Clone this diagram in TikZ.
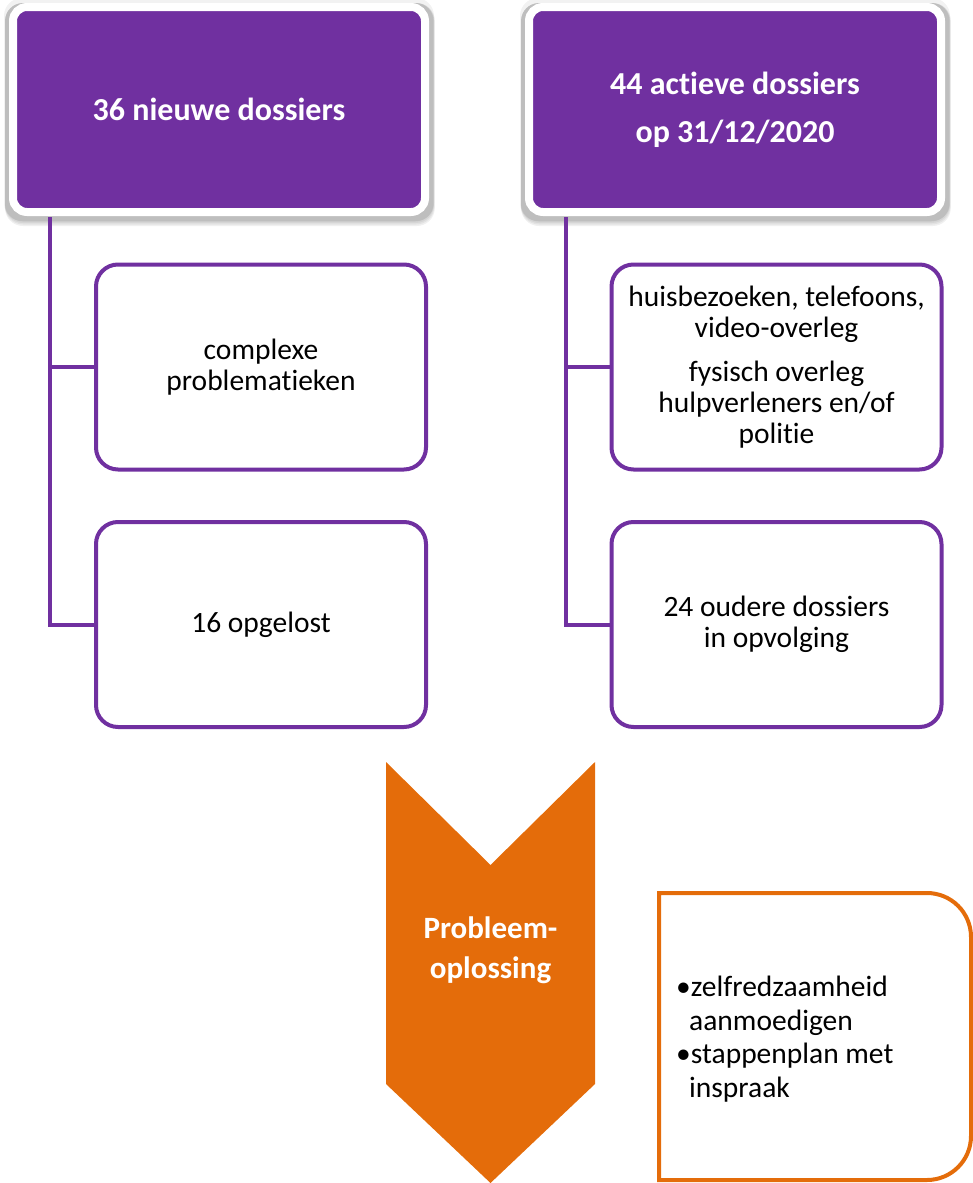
\documentclass[tikz,border=0pt]{standalone}
\usepackage{fontspec}
\setmainfont{Carlito}[Ligatures=NoCommon]
\usetikzlibrary{backgrounds}
\definecolor{pur}{HTML}{7030A0}
\definecolor{org}{HTML}{E46C0A}
\tikzset{
  headbox/.style={draw=white, line width=8pt, fill=pur, rounded corners=14pt,
    minimum width=412pt, minimum height=205pt, text=white, align=center,
    font=\fontsize{32}{48}\selectfont\bfseries},
  subbox/.style={draw=pur, line width=4pt, fill=white, rounded corners=22pt,
    minimum width=330pt, minimum height=205pt, align=center, inner sep=0pt,
    font=\fontsize{29.5}{31}\selectfont},
  conn/.style={draw=pur, line width=4pt},
  shad/.style={fill=black, opacity=0.06, rounded corners=18pt},
  body/.style={font=\fontsize{29.5}{33.5}\selectfont, align=left, inner sep=0pt}
}
\begin{document}
\begin{tikzpicture}[x=1pt, y=-1pt]
\useasboundingbox (0,0) rectangle (973,1183);

% heading boxes
\node[headbox] (h1) at (219,109.5) {36 nieuwe dossiers};
\node[headbox] (h2) at (735,109.5) {44 actieve dossiers\\op 31/12/2020};

\begin{scope}[on background layer]
\foreach \n in {h1,h2}{
  \fill[shad, opacity=0.05] ([xshift=-5pt, yshift=-5pt]\n.south west) rectangle ([xshift=5pt, yshift=5pt]\n.north east);
  \foreach \d in {1.5,3,4.5,6}{
    \fill[shad] ([xshift=-4pt, yshift=-4pt-\d pt]\n.south west) rectangle ([xshift=4pt+0.3*\d pt, yshift=0pt]\n.north east);
  }
}
\end{scope}

% sub boxes
\node[subbox] (a1) at (261,367) {complexe\\problematieken};
\node[subbox] (a2) at (261,624.5) {16 opgelost};
\node[subbox] (b1) at (776.5,367) {huisbezoeken, telefoons,\\video-overleg\\[13pt]fysisch overleg\\hulpverleners en/of\\politie};
\node[subbox] (b2) at (776.5,624.5) {24 oudere dossiers\\in opvolging};

% connectors
\coordinate (la) at ([xshift=41pt, yshift=-1pt]h1.south west);
\coordinate (lb) at ([xshift=41pt, yshift=-1pt]h2.south west);
\draw[conn] (la) |- (a2.west);
\draw[conn] (la |- a1.west) -- (a1.west);
\draw[conn] (lb) |- (b2.west);
\draw[conn] (lb |- b1.west) -- (b1.west);

% chevron
\fill[org] (386,762) -- (490.5,865) -- (595,762) -- (595,1084) -- (490.5,1183) -- (386,1084) -- cycle;
\node[text=white, align=center, font=\fontsize{31}{40}\selectfont\bfseries] (ch) at (490.5,950) {Probleem-\\oplossing};

% orange box
\draw[org, line width=4pt] (659,893) -- (927,893) arc[start angle=90, end angle=0, radius=44pt]
  -- (971,1136) arc[start angle=0, end angle=-90, radius=44pt] -- (659,1180) -- cycle;
\node[body, anchor=north west] (ob) at (676,976) {\textbullet zelfredzaamheid\\\hspace*{13pt}aanmoedigen\\\textbullet stappenplan met\\\hspace*{13pt}inspraak};
\end{tikzpicture}
\end{document}
